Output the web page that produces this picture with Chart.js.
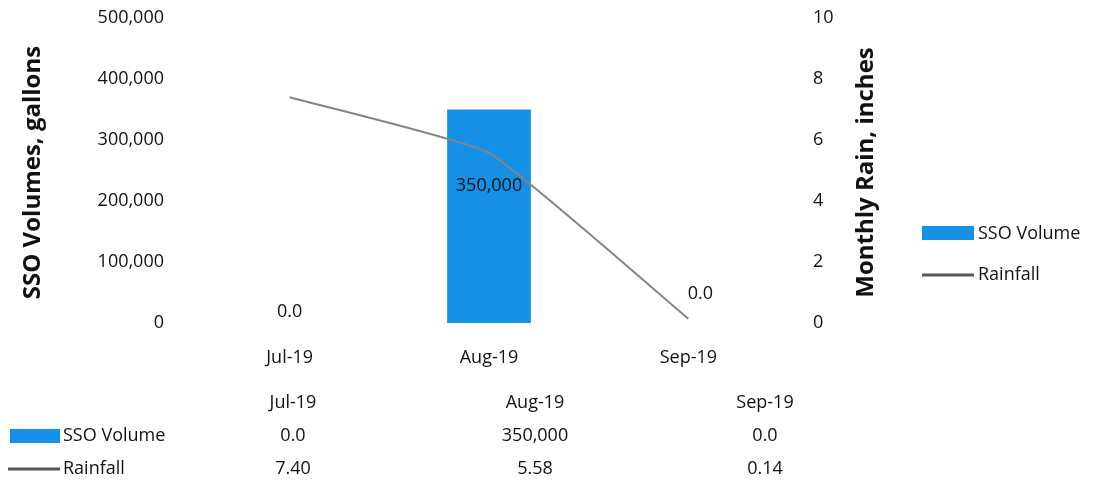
<!DOCTYPE html>
<html>
<head>
<meta charset="utf-8">
<script src="https://cdn.jsdelivr.net/npm/chart.js@4.4.1/dist/chart.umd.min.js"></script>
<style>
  html, body { margin: 0; padding: 0; background: #fff; }
  #wrap { width: 1096px; height: 487px; position: relative; }
</style>
</head>
<body>
<div id="wrap"><canvas id="c" width="1096" height="487"></canvas></div>
<script>
const categories = ['Jul-19', 'Aug-19', 'Sep-19'];
const ssoVolume = [0, 350000, 0];
const rainfall = [7.40, 5.58, 0.14];
const volumeTicks = [0, 100000, 200000, 300000, 400000, 500000];
const rainTicks = [0, 2, 4, 6, 8, 10];
const ssoTableText = ['0.0', '350,000', '0.0'];
const rainTableText = ['7.40', '5.58', '0.14'];

const FONT = "'Open Sans', 'Noto Sans', sans-serif";
const TXT = '#111111';
const BAR = '#1490e6';
const LINE = '#858585';

function fmtVol(v) { return v === 0 ? '0.0' : v.toLocaleString('en-US'); }

const overlay = {
  id: 'overlay',
  afterDatasetsDraw(chart) {
    const ctx = chart.ctx;
    const meta = chart.getDatasetMeta(1);
    ctx.save();
    ctx.font = "18px " + FONT;
    ctx.fillStyle = TXT;
    ctx.textAlign = 'center';
    ctx.textBaseline = 'middle';
    const extra = [[0, 0], [0, 0], [12, 18]];
    meta.data.forEach((el, i) => {
      const v = ssoVolume[i];
      if (v === 0) {
        ctx.fillText(fmtVol(v), el.x + extra[i][0], el.y - 11 - extra[i][1]);
      } else {
        ctx.fillText(fmtVol(v), el.x, (el.y + el.base) / 2 - 30);
      }
    });
    ctx.restore();
  },
  afterDraw(chart) {
    const ctx = chart.ctx;
    const area = chart.chartArea;
    ctx.save();
    ctx.font = "bold 24px " + FONT;
    ctx.fillStyle = TXT;
    ctx.textAlign = 'center';
    ctx.textBaseline = 'middle';
    const midY = (area.top + area.bottom) / 2 + 2;
    ctx.save();
    ctx.translate(33, midY);
    ctx.rotate(-Math.PI / 2);
    ctx.fillText('SSO Volumes, gallons', 0, 0);
    ctx.restore();
    ctx.save();
    ctx.translate(866, midY);
    ctx.rotate(-Math.PI / 2);
    ctx.fillText('Monthly Rain, inches', 0, 0);
    ctx.restore();

    // right legend
    ctx.font = "18px " + FONT;
    ctx.textAlign = 'left';
    ctx.fillStyle = BAR;
    ctx.fillRect(922, 226, 52, 14);
    ctx.fillStyle = TXT;
    ctx.fillText('SSO Volume', 978, 234);
    ctx.strokeStyle = '#555';
    ctx.lineWidth = 3;
    ctx.beginPath(); ctx.moveTo(922, 275); ctx.lineTo(974, 275); ctx.stroke();
    ctx.fillText('Rainfall', 978, 275);

    // data table
    const cols = [293, 535, 765];
    ctx.font = "18px " + FONT;
    ctx.textAlign = 'center';
    categories.forEach((c, i) => ctx.fillText(c, cols[i], 403));
    ssoTableText.forEach((t, i) => ctx.fillText(t, cols[i], 436));
    rainTableText.forEach((t, i) => ctx.fillText(t, cols[i], 469));
    ctx.fillStyle = BAR;
    ctx.fillRect(10, 429, 50, 14);
    ctx.beginPath(); ctx.moveTo(8, 469); ctx.lineTo(60, 469); ctx.stroke();
    ctx.fillStyle = TXT;
    ctx.textAlign = 'left';
    ctx.fillText('SSO Volume', 63, 436);
    ctx.fillText('Rainfall', 63, 469);
    ctx.restore();
  }
};

function noPad(s) { s.paddingTop = 0; s.paddingBottom = 0; }

new Chart(document.getElementById('c'), {
  data: {
    labels: categories,
    datasets: [
      {
        type: 'line', label: 'Rainfall', data: rainfall, yAxisID: 'y1',
        borderColor: LINE, borderWidth: 2, pointRadius: 0, tension: 0.12, fill: false
      },
      {
        type: 'bar', label: 'SSO Volume', data: ssoVolume, yAxisID: 'y',
        backgroundColor: BAR, borderWidth: 0, categoryPercentage: 1, barPercentage: 0.42
      }
    ]
  },
  options: {
    responsive: false,
    animation: false,
    devicePixelRatio: 1,
    layout: { padding: { left: 0, right: 216, top: 18, bottom: 110 } },
    plugins: { legend: { display: false }, tooltip: { enabled: false } },
    scales: {
      x: {
        grid: { display: false }, border: { display: false },
        ticks: { color: TXT, font: { family: FONT, size: 18 }, padding: 16, maxRotation: 0 },
        afterFit(s) { s.height = 54; s.paddingLeft = 0; s.paddingRight = 0; }
      },
      y: {
        position: 'left', min: 0, max: 500000,
        grid: { display: false }, border: { display: false },
        afterBuildTicks(s) { s.ticks = volumeTicks.map(v => ({ value: v })); },
        ticks: { color: TXT, font: { family: FONT, size: 18 }, padding: 18,
          callback: v => v.toLocaleString('en-US') },
        afterFit(s) { s.width = 190; noPad(s); }
      },
      y1: {
        position: 'right', min: 0, max: 10,
        grid: { display: false }, border: { display: false },
        afterBuildTicks(s) { s.ticks = rainTicks.map(v => ({ value: v })); },
        ticks: { color: TXT, font: { family: FONT, size: 18 }, padding: 17 },
        afterFit(s) { s.width = 92; noPad(s); }
      }
    }
  },
  plugins: [overlay]
});
</script>
</body>
</html>
